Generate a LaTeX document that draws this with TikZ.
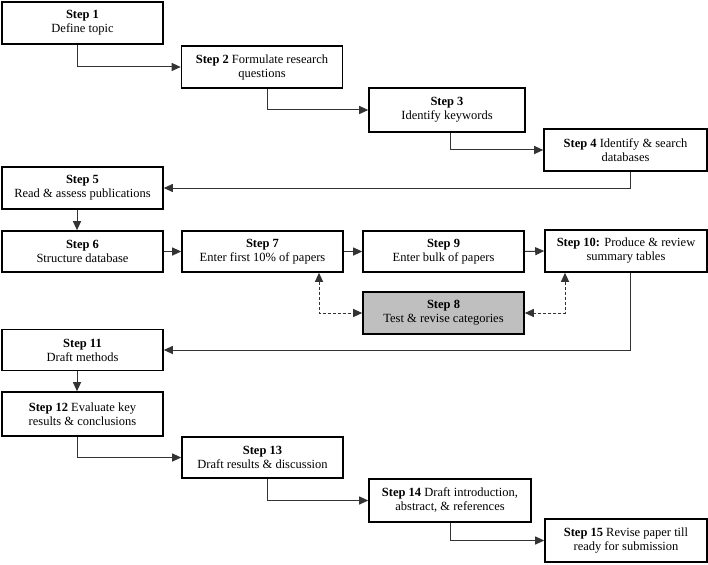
\documentclass[tikz,border=0pt]{standalone}
\usepackage{fontspec}
\setmainfont{Liberation Serif}[Ligatures=TeX]
\newfontfamily\stepfont{Liberation Serif}
\usetikzlibrary{arrows.meta}
\begin{document}
\begin{tikzpicture}[x=1pt,y=-1pt,
  box/.style={draw=black,line width=1.6pt,fill=white,align=center,inner sep=2pt,
    font=\stepfont\fontsize{12.5}{14}\selectfont},
  conn/.style={draw=black!80,line width=1pt,-{Triangle[length=9pt,width=8pt]}},
  dconn/.style={draw=black!80,line width=1pt,dash pattern=on 3pt off 2pt,
    {Triangle[length=9pt,width=8pt]}-{Triangle[length=9pt,width=8pt]}}]
\useasboundingbox (0,0) rectangle (708,564);
\node[box,minimum width=161pt,minimum height=42pt] (s1) at (82.5,23) {\textbf{Step 1}\\Define topic};
\node[box,minimum width=161pt,minimum height=42pt] (s2) at (262,67) {\textbf{Step 2} Formulate research\\questions};
\node[box,minimum width=156pt,minimum height=44pt] (s3) at (447,110) {\textbf{Step 3}\\Identify keywords};
\node[box,minimum width=163pt,minimum height=42pt] (s4) at (625.5,150) {\textbf{Step 4} Identify \& search\\databases};
\node[box,minimum width=161pt,minimum height=42pt] (s5) at (82.5,188) {\textbf{Step 5}\\Read \& assess publications};
\node[box,minimum width=161pt,minimum height=41pt] (s6) at (82.5,251.5) {\textbf{Step 6}\\Structure database};
\node[box,minimum width=161pt,minimum height=41pt] (s7) at (262.5,251.5) {\textbf{Step 7}\\Enter first 10\% of papers};
\node[box,minimum width=161pt,minimum height=41pt] (s9) at (443.5,251.5) {\textbf{Step 9}\\Enter bulk of papers};
\node[box,minimum width=162pt,minimum height=42pt] (s10) at (626,251) {\textbf{Step 10:} Produce \& review\\summary tables};
\node[box,fill=black!25,minimum width=161pt,minimum height=42pt] (s8) at (443.5,313) {\textbf{Step 8}\\Test \& revise categories};
\node[box,minimum width=161pt,minimum height=41pt] (s11) at (82.5,350) {\textbf{Step 11}\\Draft methods};
\node[box,minimum width=161pt,minimum height=44pt] (s12) at (82.5,414) {\textbf{Step 12} Evaluate key\\results \& conclusions};
\node[box,minimum width=161pt,minimum height=41pt] (s13) at (262.5,457.5) {\textbf{Step 13}\\Draft results \& discussion};
\node[box,minimum width=162pt,minimum height=43pt] (s14) at (450,500.5) {\textbf{Step 14} Draft introduction,\\abstract, \& references};
\node[box,minimum width=162pt,minimum height=43pt] (s15) at (626,540.5) {\textbf{Step 15} Revise paper till\\ready for submission};
\draw[conn] ([xshift=-5.5pt]s1.south) |- (s2.west);
\draw[conn] ([xshift=5pt]s2.south) |- (s3.west);
\draw[conn] ([xshift=3pt]s3.south) |- (s4.west);
\draw[conn] ([xshift=4.5pt]s4.south) |- (s5.east);
\draw[conn] ([xshift=-5.5pt]s5.south) -- ([xshift=-5.5pt]s6.north);
\draw[conn] (s6.east) -- (s7.west);
\draw[conn] (s7.east) -- (s9.west);
\draw[conn] (s9.east) -- (s10.west);
\draw[dconn] ([xshift=56.5pt]s7.south) |- (s8.west);
\draw[dconn] ([xshift=-61pt]s10.south) |- (s8.east);
\draw[conn] ([xshift=4pt]s10.south) |- (s11.east);
\draw[conn] ([xshift=-5.5pt]s11.south) -- ([xshift=-5.5pt]s12.north);
\draw[conn] ([xshift=-5.5pt]s12.south) |- (s13.west);
\draw[conn] ([xshift=4.5pt]s13.south) |- (s14.west);
\draw[conn] (s14.south) |- (s15.west);
\end{tikzpicture}
\end{document}
